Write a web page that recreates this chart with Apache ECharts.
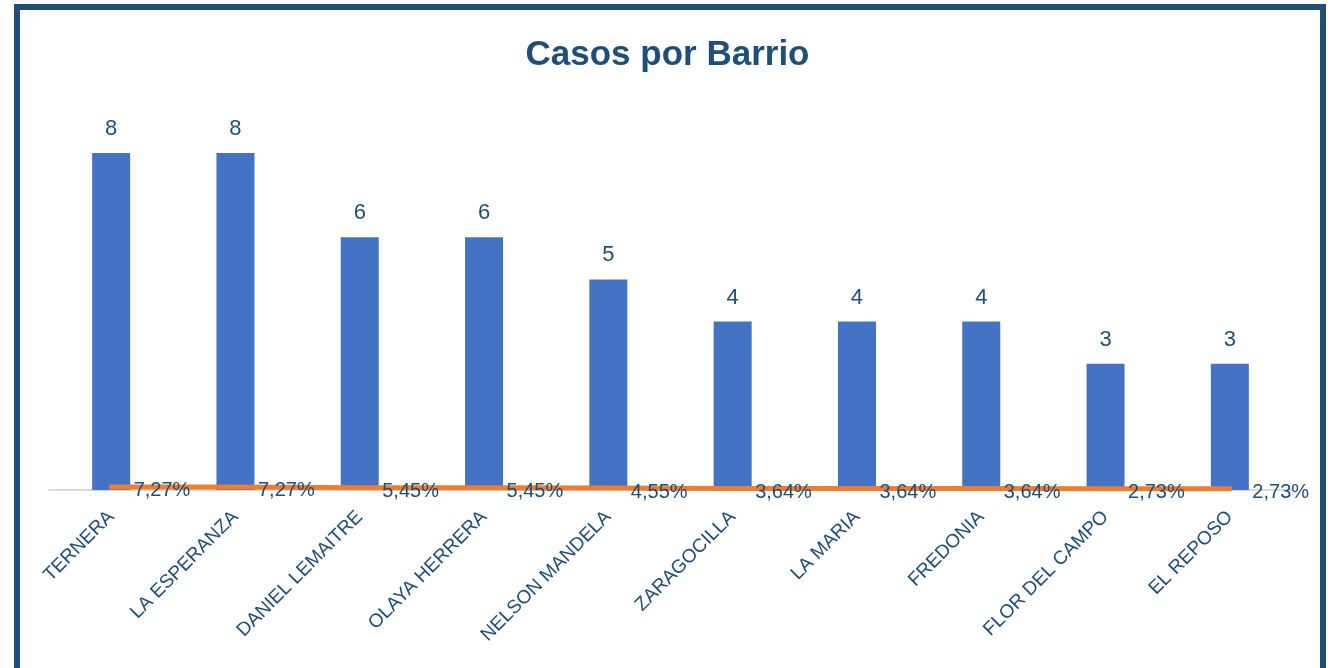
<!DOCTYPE html>
<html>
<head>
<meta charset="utf-8">
<script src="https://cdn.jsdelivr.net/npm/echarts@6/dist/echarts.min.js"></script>
<style>
  html, body { margin: 0; padding: 0; background: #fff; }
  #frame { position: absolute; left: 14px; top: 4px; width: 1300px; height: 662px; border: 6px solid #1F4E79; border-bottom: none; }
  #main { position: absolute; left: 0; top: 0; width: 1335px; height: 668px; }
</style>
</head>
<body>
<div id="frame"></div>
<div id="main"></div>
<script>
const barrios = ['TERNERA', 'LA ESPERANZA', 'DANIEL LEMAITRE', 'OLAYA HERRERA', 'NELSON MANDELA',
  'ZARAGOCILLA', 'LA MARIA', 'FREDONIA', 'FLOR DEL CAMPO', 'EL REPOSO']
const casos = [8, 8, 6, 6, 5, 4, 4, 4, 3, 3]
const porcentaje = [0.0727, 0.0727, 0.0545, 0.0545, 0.0455, 0.0364, 0.0364, 0.0364, 0.0273, 0.0273]

const azul = '#1F4E79'
const fuente = "'Liberation Sans Narrow', 'Liberation Sans', Arial, sans-serif"

const chart = echarts.init(document.getElementById('main'))
chart.setOption({
  animation: false,
  title: {
    text: 'Casos por Barrio',
    left: 'center',
    top: 33,
    textStyle: { color: azul, fontSize: 35, fontWeight: 'bold', fontFamily: "'Liberation Sans', Arial, sans-serif" }
  },
  grid: { left: 49, right: 43, top: 153, bottom: 178 },
  xAxis: {
    type: 'category',
    data: barrios,
    axisLine: { lineStyle: { color: '#D9D9D9', width: 2 } },
    axisTick: { show: false },
    axisLabel: {
      rotate: 45,
      interval: 0,
      margin: 24,
      color: azul,
      fontSize: 19,
      fontFamily: fuente
    }
  },
  yAxis: { type: 'value', min: 0, max: 8, show: false, splitLine: { show: false } },
  series: [
    {
      name: 'Casos',
      type: 'bar',
      data: casos,
      barWidth: 38,
      itemStyle: { color: '#4472C4' },
      label: {
        show: true,
        position: 'top',
        distance: 13,
        color: azul,
        fontSize: 22,
        fontFamily: fuente
      }
    },
    {
      name: 'Porcentaje',
      type: 'line',
      data: porcentaje,
      symbol: 'circle',
      symbolSize: 1,
      showSymbol: true,
      itemStyle: { color: 'rgba(0,0,0,0)' },
      lineStyle: { color: '#ED7D31', width: 5, cap: 'round' },
      label: {
        show: true,
        position: 'right',
        distance: 22,
        offset: [0, 4],
        color: azul,
        fontSize: 20,
        fontFamily: fuente,
        formatter: p => (p.value * 100).toFixed(2).replace('.', ',') + '%'
      },
      z: 3
    }
  ]
})
</script>
</body>
</html>
